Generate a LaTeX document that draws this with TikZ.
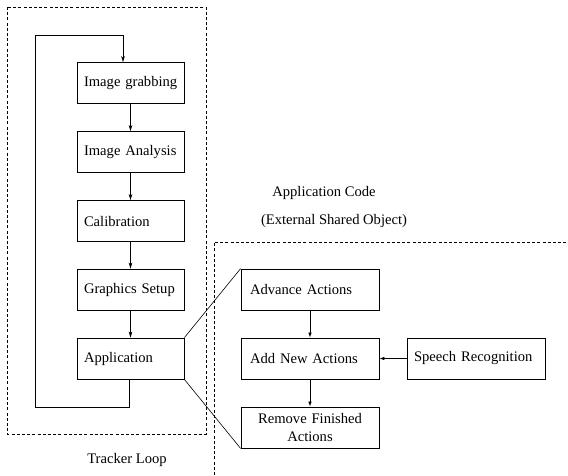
\documentclass[tikz,border=0pt]{standalone}
\usepackage{fontspec}
\setmainfont{Liberation Serif}
\usepackage{tikz}
\usetikzlibrary{arrows.meta,positioning}
\hyphenpenalty=10000
\exhyphenpenalty=10000

\tikzset{
  stage/.style={draw,line width=0.8pt,minimum width=107pt,minimum height=41pt,
    text width=93pt,inner xsep=7pt,align=left,font=\fontsize{14.6}{18.5}\selectfont},
  task/.style={stage,minimum width=138pt,text width=120pt,inner xsep=9pt},
  zone/.style={line width=0.7pt,dash pattern=on 3pt off 2.2pt},
  flow/.style={line width=0.7pt,-{Stealth[length=6pt,width=3.6pt,inset=1.5pt]}},
  feed/.style={line width=0.7pt,-{Latex[length=5pt,width=3.6pt]}},
  caption/.style={font=\fontsize{14.6}{18}\selectfont}
}

\begin{document}
\begin{tikzpicture}[x=1pt,y=-1pt]
  \useasboundingbox (0,0) rectangle (568,475);
  % Tracker loop stages
  \node[stage] (grab) at (130.5,83) {\mbox{Image grabbing}};
  \node[stage] (ana) at (130.5,152) {\mbox{Image Analysis}};
  \node[stage] (calib) at (130.5,221) {Calibration};
  \node[stage] (gfx) at (130.5,289.5) {\mbox{Graphics Setup}};
  \node[stage] (app) at (130.5,358.5) {Application};
  \draw[flow] (grab) -- (ana);
  \draw[flow] (ana) -- (calib);
  \draw[flow] (calib) -- (gfx);
  \draw[flow] (gfx) -- (app);
  % Loop back
  \coordinate (loopbl) at (35,407);
  \coordinate (looptl) at (35,35);
  \draw[flow] ([xshift=-1.5pt]app.south) |- (loopbl) -- (looptl) -| ([xshift=-7.5pt]grab.north);
  % Application code
  \node[task] (adv) at (310,289.5) {Advance Actions};
  \node[task] (add) at (310,358.5) {Add New Actions};
  \node[task,align=center] (rem) at (310,427.5) {Remove Finished\\Actions};
  \node[task,inner xsep=7pt,text width=124pt] (speech) at (476,358.5) {\mbox{Speech Recognition}};
  \draw[feed] (adv) -- (add);
  \draw[feed] (add) -- (rem);
  \draw[feed] (speech) -- (add);
  % Zoom lines
  \draw[line width=0.6pt] (app.north east) -- (adv.north west);
  \draw[line width=0.6pt] (app.south east) -- (rem.south west);
  % Dashed regions
  \draw[zone] (7,7) rectangle (206,434);
  \draw[zone] (214,475) -- (214,242) -- (568,242);
  % Captions
  \node[caption] (trk) at (127,460) {Tracker Loop};
  \node[caption] (code) at (324,193) {Application Code};
  \node[caption] (ext) at (334,221) {(External Shared Object)};
\end{tikzpicture}
\end{document}
